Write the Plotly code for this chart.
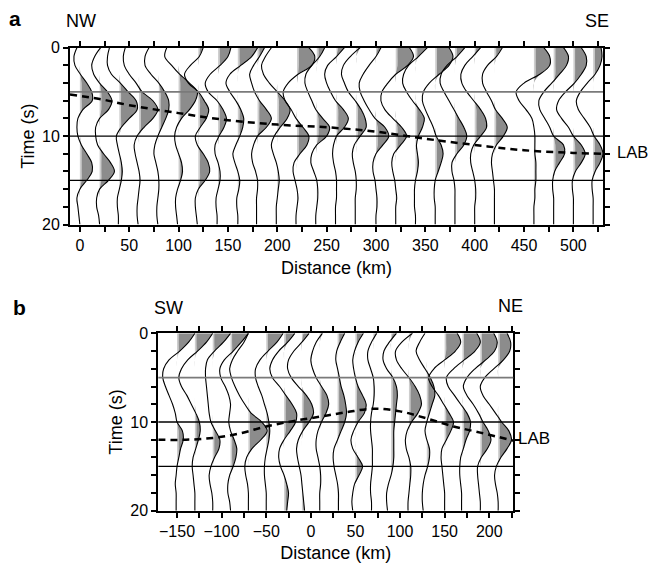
import plotly.graph_objects as go

# Receiver-function wiggle sections, time samples every 1 s
TIME_S = list(range(21))

# Panel a: station distance (km) and trace amplitude (km offset) per second
DIST_A = [0, 20, 40, 60, 80, 100, 120, 140, 160, 180, 200, 220, 240,
          260, 280, 300, 320, 340, 360, 380, 400, 420, 460, 480, 500, 520]
AMP_A = [
    [-3, -6, -5, 0.5, 7, 12, 12.5, 3, -2, -3, -2, 1.5, 7, 12, 12.5, 7, 0, -3, -2, -1, 0],
    [1, -5, -8, -6, 0, 8, 12.5, 9, 0, -4, -4, -2, 4, 11, 15, 9, 0, -3, -3, -1, 0],
    [-10, -12, -12, -8, 1, 9, 17, 18, 10, 2, -3, -2, 0, 2, 3, 2, 0, -2, -2, -1, -1],
    [-14, -16, -15, -10, -3, 3, 14, 19, 14, 5, -2, -5, -4, -2, 0, 1, 0, -1, -2, -2, -1],
    [-10, -14, -14, -8, 0, 6, 10, 10, 7, 3, -1, -4, -5, -3, -1, 0, 0, -1, -2, -2, -1],
    [-12, -14, -7, 1, 11, 19, 17, 11, 3, -2, -4, -3, 0, 3, 4, 2, -1, -3, -3, -2, -1],
    [5, 1, -8, -14, -10, 0, 6, 10.5, 8, 2, -3, -1, 5, 10, 11.5, 7, 0, -3, -3, -2, -1],
    [13, 10, 2, -8, -13, -10, -1, 5, 8.5, 6, 1, -3, -3, 0, 2, 2, 0, -2, -2, -1, -1],
    [20, 14, 3, -8, -12, -8, -2, 3, 6, 5, 2, -2, -5, -3, 0, 2, 1, -1, -1, 0, 0],
    [7, 2, -4, -8, -6, -3, 2, 9, 14, 9, 0, -4, -6, -5, -2, 0, 0, -1, -1, -1, -1],
    [-6, -12, -16, -14, -8, 0, 8, 13, 10, 3, -3, -6, -4, -1, 1, 2, 1, 0, -1, -1, -1],
    [12, 18, 15, 1, -9, -14, -12, -6, -1, 6, 12, 10, 3, -3, -4, -2, 0, 1, 0, -1, -1],
    [8, 3, -5, -11, -12, -9, -5, -1, 6, 13, 10, 0, -5, -6, -3, 0, 1, 1, 0, -1, -1],
    [8, 0, -9, -12, -10, -6, -1, 7, 12, 8, 0, -3, -4, -3, -1, 0, 0, 0, -1, -1, -1],
    [4, -6, -13, -15, -12, -8, -1, 5, 9, 10, 4, -2, -4, -3, -1, 0, 0, -1, -1, -1, -1],
    [5, 0, -7, -13, -17, -16, -12, -7, -1, 9, 13, 7, 0, -3, -3, -1, 0, 1, 1, 0, 0],
    [14, 18, 12, 0, -8, -14, -15, -11, -3, 6, 11, 5, -2, -4, -3, -1, 0, 1, 0, 0, 0],
    [12, 3, -7, -12, -13, -9, -3, 4, 9, 7, 3, 1, 2, 3, 2, 0, -1, -1, -1, 0, 0],
    [14, 18, 14, 4, -6, -12, -13, -10, -6, -2, 1, 6, 8, 6, 3, 0, -1, -1, 0, 0, 0],
    [10, 2, -8, -14, -15, -11, -6, -1, 4, 9, 12, 9, 2, -3, -3, -1, 0, 0, 0, 0, 0],
    [6, -2, -10, -14, -13, -8, -1, 6, 11, 12, 6, -1, -4, -4, -2, 0, 1, 1, 0, 0, 0],
    [8, 2, -7, -12, -12, -8, -3, 1, 8, 13, 9, 2, -2, -3, -2, -1, 0, 0, 0, 0, 0],
    [10, 16, 16, 6, -10, -18, -15, -8, -2, 0, 1, 1, 1, 2, 2, 2, 1, 1, 0, 0, 0],
    [10, 15, 13, 6, -2, -10, -15, -14, -9, -4, 0, 10, 11, 6, 1, -1, -1, 0, 0, 0, 0],
    [8, 13, 13, 8, 1, -8, -15, -17, -12, -5, 0, 8, 12, 8, 2, -1, -1, 0, 0, 0, 0],
    [8, 9, 7, 2, -6, -13, -17, -15, -9, -3, 1, 7, 10, 7, 2, -1, -1, 0, 0, 0, 0],
]

# Panel b
DIST_B = [-150, -130, -110, -90, -70, -50, -30, -10, 10, 30, 50, 70, 90,
          110, 130, 150, 170, 190, 210]
AMP_B = [
    [20, 13, 3, -9, -15, -16, -13, -9, -5, -2, 0, 6, 7, 4, 2, 0, -1, -2, -1, -1, -1],
    [20, 13, 3, -8, -15, -18, -15, -9, -4, 1, 5, 6, 4, 1, -2, -3, -2, -1, 0, 0, 0],
    [20, 12, 2, -6, -8, -8, -7, -6, -5, -4, -2, 3, 8, 7, 2, -2, -4, -3, -1, 0, 0],
    [20, 12, 3, -7, -12, -11, -6, -2, 0, -1, -2, 0, 4, 7, 6, 3, -1, -3, -3, -1, 0],
    [0, -5, -12, -18, -21, -19, -15, -10, -4, 3, 15, 21, 14, 4, -2, -4, -3, -1, 0, 0, 0],
    [19, 12, 2, -7, -12, -12, -9, -5, -2, 1, 3, 4, 3, 1, -1, -2, -2, -1, 0, 0, 0],
    [12, 4, -6, -13, -16, -13, -5, 2, 9, 14, 13, 7, 0, -5, -6, -4, 0, 3, 5, 4, 3],
    [8, 0, -9, -15, -16, -12, -4, 5, 11, 13, 8, 1, -4, -6, -5, -3, -1, 0, 1, 2, 3],
    [3, -4, -8, -10, -8, -4, 2, 8, 10, 7, 2, -2, -4, -4, -2, 0, 1, 1, 0, 0, 0],
    [8, 3, -1, -2, 0, 2, 4, 7, 9, 10, 8, 4, 0, -4, -5, -4, -2, 0, 1, 1, 1],
    [9, 3, -1, -3, -2, 0, 3, 8, 12, 10, 3, -2, -5, -3, 3, 8, 4, -1, -3, -4, -3],
    [4, -2, -6, -6, -3, 0, 1, 1, 0, -2, -3, -3, -2, -1, -1, -1, -2, -3, -3, -2, -2],
    [6, -2, -8, -9, -5, 2, 6, 7, 6, 5, 4, 3, 3, 3, 3, 2, 0, -3, -5, -5, -4],
    [4, -8, -15, -14, -8, 0, 7, 12, 14, 10, 3, -2, -4, -3, 0, 2, 2, 1, 0, -1, -1],
    [-2, -8, -12, -8, -2, 4, 8, 9, 6, 3, 0, -2, 0, 3, 3, 1, -2, -4, -5, -5, -4],
    [14, 18, 12, 0, -12, -18, -14, -7, -1, 5, 10, 7, 2, -3, -4, -3, -2, -1, 0, 0, 0],
    [16, 20, 14, 2, -10, -18, -16, -9, -2, 5, 9, 8, 4, 1, -2, -3, -3, -2, -1, -1, -1],
    [15, 19, 16, 6, -6, -15, -19, -15, -8, -2, 3, 9, 12, 8, 1, -3, -3, -2, -1, 0, 0],
    [10, 14, 13, 6, -5, -15, -20, -17, -10, -3, 4, 12, 15, 10, 3, -2, -4, -3, -1, 0, 0],
]

# LAB picks (dashed line)
LAB_A_DIST = [-10, 20, 50, 100, 150, 200, 250, 300, 350, 400, 450, 500, 530]
LAB_A_TIME = [5.3, 5.8, 6.5, 7.4, 8.2, 8.7, 9.0, 9.5, 10.3, 11.0, 11.6, 11.9, 12.0]
LAB_B_DIST = [-171, -140, -110, -80, -50, -20, 10, 40, 70, 100, 130, 160, 190, 227]
LAB_B_TIME = [12.0, 12.0, 11.8, 11.3, 10.5, 9.9, 9.4, 8.9, 8.5, 8.8, 9.6, 10.5, 11.2, 12.1]

REF_TIMES = [5, 10, 15]
REF_COLORS = ["#7a7a7a", "black", "black"]
REF_WIDTHS = [1.7, 1.4, 1.2]

# the page body adds an 8px margin, so the figure is drawn 8px smaller
PAGE_PAD = 8
W, H = 657 - PAGE_PAD, 563 - PAGE_PAD
FONT = "Liberation Sans, Arial, sans-serif"
FILL_DARK = "#8c8c8c"
FILL_LIGHT = "#cdcdcd"
STRIP_W = 1.7


def px_x(p):
    return (p - PAGE_PAD) / W


def px_y(p):
    return 1 - (p - PAGE_PAD) / H


fig = go.Figure()


def add_section(dists, amps, xa, ya):
    # fills first so every wiggle line sits on top of them
    for d, amp in zip(dists, amps):
        base = [d] * len(TIME_S)
        strip = [d + min(max(v, 0), STRIP_W) for v in amp]
        pos = [d + max(v, 0) for v in amp]
        common = dict(y=TIME_S, mode="lines", xaxis=xa, yaxis=ya,
                      hoverinfo="skip", showlegend=False)
        fig.add_trace(go.Scatter(x=base, line=dict(width=0), **common))
        fig.add_trace(go.Scatter(x=strip, line=dict(width=0, shape="spline"),
                                 fill="tonextx", fillcolor=FILL_LIGHT, **common))
        fig.add_trace(go.Scatter(x=pos, line=dict(width=0, shape="spline"),
                                 fill="tonextx", fillcolor=FILL_DARK, **common))
    for d, amp in zip(dists, amps):
        fig.add_trace(go.Scatter(x=[d + v for v in amp], y=TIME_S, mode="lines",
                                 line=dict(color="black", width=1.1, shape="spline"),
                                 xaxis=xa, yaxis=ya, hoverinfo="skip", showlegend=False))


add_section(DIST_A, AMP_A, "x", "y")
add_section(DIST_B, AMP_B, "x2", "y2")

for xs, ts, xa, ya in [(LAB_A_DIST, LAB_A_TIME, "x", "y"), (LAB_B_DIST, LAB_B_TIME, "x2", "y2")]:
    fig.add_trace(go.Scatter(x=xs, y=ts, mode="lines", xaxis=xa, yaxis=ya,
                             line=dict(color="black", width=2.5, dash="7px,5px", shape="spline"),
                             hoverinfo="skip", showlegend=False))

for xr, yr in [("x", "y"), ("x2", "y2")]:
    for t, c, w in zip(REF_TIMES, REF_COLORS, REF_WIDTHS):
        fig.add_shape(type="line", xref=xr + " domain", yref=yr, x0=0, x1=1, y0=t, y1=t,
                      line=dict(color=c, width=w), layer="above")

axis_common = dict(showline=True, linecolor="black", linewidth=2, mirror="ticks",
                   ticks="outside", ticklen=5, tickwidth=1.5, tickcolor="black",
                   showgrid=False, zeroline=False, automargin=False,
                   tickfont=dict(size=16, color="black"),
                   title_font=dict(size=18, color="black"))
x_minor = dict(ticks="outside", dtick=25, ticklen=5, tickwidth=1.5, tickcolor="black")
y_minor = dict(ticks="outside", dtick=2, ticklen=5, tickwidth=1.5, tickcolor="black")

fig.update_layout(
    template="none",
    width=W, height=H,
    margin=dict(l=0, r=0, t=0, b=0, autoexpand=False),
    plot_bgcolor="white", paper_bgcolor="white",
    font=dict(family=FONT, color="black"),
    xaxis=dict(domain=[px_x(70), px_x(603)], range=[-10, 530], anchor="y",
               tick0=0, dtick=50, minor=x_minor,
               title=dict(text="Distance (km)", standoff=9), **axis_common),
    yaxis=dict(domain=[px_y(224.5), px_y(47.7)], range=[20, 0], anchor="x",
               tick0=0, dtick=10, minor=y_minor,
               title=dict(text="Time (s)", standoff=3), **axis_common),
    xaxis2=dict(domain=[px_x(158.3), px_x(513.3)], range=[-171, 227], anchor="y2",
                tick0=0, dtick=50, minor=x_minor,
                title=dict(text="Distance (km)", standoff=12), **axis_common),
    yaxis2=dict(domain=[px_y(510.7), px_y(333.3)], range=[20, 0], anchor="x2",
                tick0=0, dtick=10, minor=y_minor,
                title=dict(text="Time (s)", standoff=3), **axis_common),
)

labels = [
    ("<b>a</b>", 15, 18, 21, "center"),
    ("NW", 81, 21, 18, "center"),
    ("SE", 597, 21, 18, "center"),
    ("LAB", 615, 152, 16.5, "left"),
    ("<b>b</b>", 19, 307, 21, "center"),
    ("SW", 168, 308, 18, "center"),
    ("NE", 510, 306, 18, "center"),
    ("LAB", 516, 438, 17, "left"),
]
for text, x, y, size, anchor in labels:
    fig.add_annotation(text=text, x=px_x(x), y=px_y(y), xref="paper", yref="paper",
                       xanchor=anchor, yanchor="middle", showarrow=False,
                       font=dict(size=size, color="black", family=FONT))

fig.write_html("out.html")
